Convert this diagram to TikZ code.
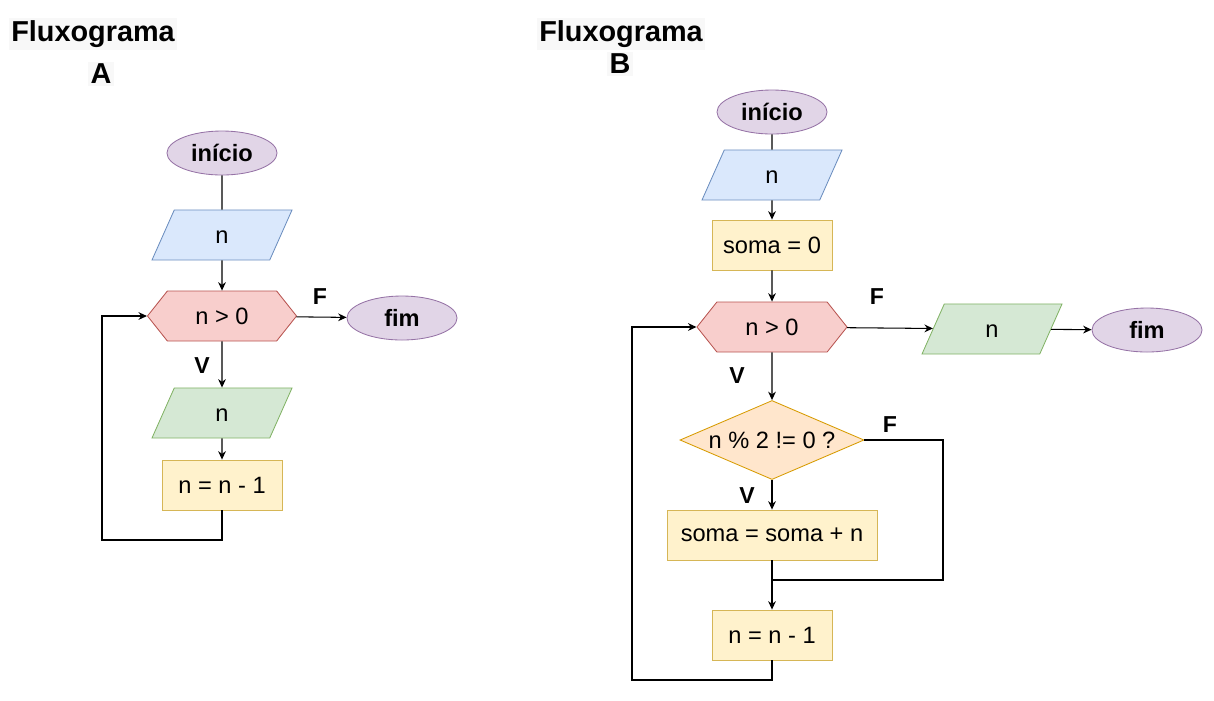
\documentclass[tikz,border=0pt]{standalone}
\usepackage{fontspec}
\setmainfont{Liberation Sans}
\usetikzlibrary{arrows.meta}
\usetikzlibrary{shapes.geometric}
\usetikzlibrary{shapes.symbols}

\definecolor{lilacfill}{HTML}{E1D5E7}
\definecolor{lilacline}{HTML}{9673A6}
\definecolor{bluefill}{HTML}{DAE8FC}
\definecolor{blueline}{HTML}{6C8EBF}
\definecolor{redfill}{HTML}{F8CECC}
\definecolor{redline}{HTML}{B85450}
\definecolor{greenfill}{HTML}{D5E8D4}
\definecolor{greenline}{HTML}{82B366}
\definecolor{yellowfill}{HTML}{FFF2CC}
\definecolor{yellowline}{HTML}{D6B656}
\definecolor{orangefill}{HTML}{FFE6CC}
\definecolor{orangeline}{HTML}{D79B00}
\definecolor{titlebg}{HTML}{F8F8F8}

\tikzset{
    txt/.style={font=\fontsize{16.8}{20}\selectfont, line width=0.6pt},
    lbl/.style={font=\fontsize{16.4}{19.7}\selectfont\bfseries},
    titulo/.style={font=\fontsize{20.5}{24}\selectfont\bfseries, fill=titlebg, inner sep=1.5pt},
    terminal/.style={txt, font=\fontsize{16.8}{20}\selectfont\bfseries, ellipse, draw=lilacline, fill=lilacfill,
        minimum width=2.75cm, minimum height=1.1cm, inner sep=0pt},
    leitura/.style={txt, trapezium, trapezium left angle=66, trapezium right angle=114,
        trapezium stretches body=true, minimum width=3.5cm, text height=23.6pt, text depth=12pt,
        inner ysep=0pt, inner xsep=2pt},
    entrada/.style={leitura, draw=blueline, fill=bluefill},
    saida/.style={leitura, draw=greenline, fill=greenfill},
    processo/.style={txt, rectangle, draw=yellowline, fill=yellowfill, minimum width=3cm, minimum height=1.25cm},
    laco/.style={txt, signal, signal to=east and west, signal from=nowhere, signal pointer angle=103,
        draw=redline, fill=redfill, minimum width=3.725cm, minimum height=1.25cm, inner sep=0pt},
    teste/.style={txt, diamond, aspect=2.33, draw=orangeline, fill=orangefill,
        minimum width=4.6cm, minimum height=1.975cm, inner sep=1pt},
    seta/.style={-{Stealth[length=6pt,width=5.5pt]}},
    linha/.style={line width=0.75pt}
}

\begin{document}
\begin{tikzpicture}[x=0.025cm, y=-0.025cm, linha]
    \useasboundingbox (0,0) rectangle (1214,700);

    % fluxograma A
    \node[titulo] (titleA) at (93,34) {Fluxograma};
    \node[titulo] (letterA) at (101,74) {A};

    \node[terminal] (iniA) at (222,153) {início};
    \node[entrada] (inA) at (222,235) {n};
    \node[laco] (hexA) at (222,316) {n > 0};
    \node[terminal] (fimA) at (402,318) {fim};
    \node[saida] (outA) at (222,413) {n};
    \node[processo] (decA) at (222,485) {n = n - 1};
    \coordinate (loopA) at (102,540);

    \node[lbl] (fA) at (320,297) {F};
    \node[lbl] (vA) at (202,366) {V};

    \draw (iniA) -- (inA);
    \draw[seta] (inA) -- (hexA);
    \draw[seta] (hexA) -- (fimA);
    \draw[seta] (hexA) -- (outA);
    \draw[seta] (outA) -- (decA);
    \draw[seta] (decA.south) |- (loopA) |- (hexA.west);

    % fluxograma B
    \node[titulo] (titleB) at (621,34) {Fluxograma};
    \node[titulo] (letterB) at (620,64) {B};

    \node[terminal] (iniB) at (772,112) {início};
    \node[entrada] (inB) at (772,175) {n};
    \node[processo] (zeroB) at (772,245) {soma = 0};
    \node[laco, minimum width=3.75cm] (hexB) at (772,327) {n > 0};
    \node[saida] (outB) at (992,329) {n};
    \node[terminal] (fimB) at (1147,330) {fim};
    \node[teste] (diaB) at (772,440) {n \% 2 != 0 ?};
    \node[processo, minimum width=5.25cm] (somaB) at (772,535) {soma = soma + n};
    \node[processo] (decB) at (772,635) {n = n - 1};
    \coordinate (sideB) at (943,580);
    \coordinate (mergeB) at (772,580);
    \coordinate (loopB) at (632,680);

    \node[lbl] (fB) at (877,297) {F};
    \node[lbl] (vB) at (737,376) {V};
    \node[lbl] (fB2) at (890,425) {F};
    \node[lbl] (vB2) at (747,496) {V};

    \draw (iniB) -- (inB);
    \draw[seta] (inB) -- (zeroB);
    \draw[seta] (zeroB) -- (hexB);
    \draw[seta] (hexB) -- (outB);
    \draw[seta] (outB) -- (fimB);
    \draw[seta] (hexB) -- (diaB);
    \draw[seta] (diaB) -- (somaB);
    \draw[seta] (somaB) -- (decB);
    \draw (diaB.east) -| (sideB) -- (mergeB);
    \draw[seta] (decB.south) |- (loopB) |- (hexB.west);
\end{tikzpicture}
\end{document}
